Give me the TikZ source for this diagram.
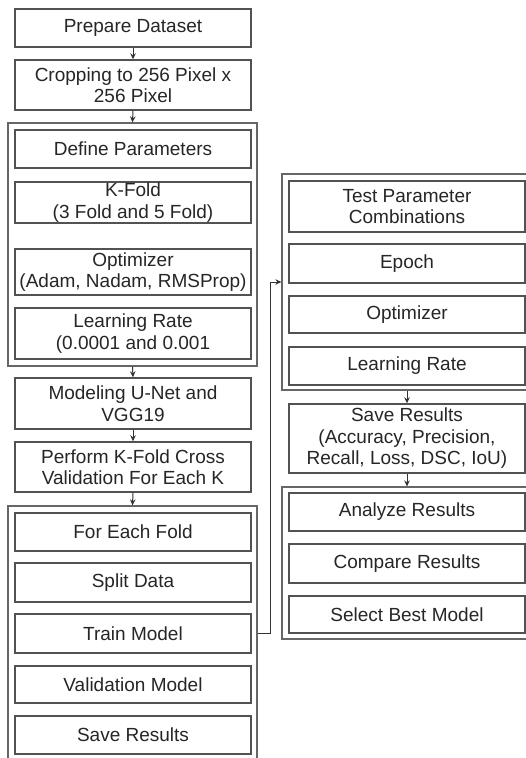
\documentclass[tikz,border=0pt]{standalone}
\usepackage{fontspec}
\setmainfont{Liberation Sans}
\usetikzlibrary{arrows.meta}
\begin{document}
\begin{tikzpicture}[x=1pt,y=-1pt,
  box/.style={draw=black!68, line width=1.4pt, minimum width=236pt, inner sep=0pt, align=center,
    text=black!85, font=\fontsize{19}{21.5}\selectfont},
  grp/.style={draw=black!60, line width=1.2pt, inner sep=0pt},
  arr/.style={draw=black!80, line width=1pt, -{Stealth[length=6pt,width=5.5pt]}}]
\clip (0,0) rectangle (526,758);
\fill[white] (0,0) rectangle (526,758);
% groups
\node[grp, minimum width=249pt, minimum height=243pt] (g1) at (132.5,244.5) {};
\node[grp, minimum width=249pt, minimum height=300pt] (g2) at (132.5,656) {};
\node[grp, minimum width=250pt, minimum height=216pt] (rg1) at (407,282) {};
\node[grp, minimum width=250pt, minimum height=152pt] (rg2) at (407,563) {};
% left column
\node[box, minimum height=38pt] (prep) at (133,28) {Prepare Dataset};
\node[box, minimum height=50pt] (crop) at (133,85) {Cropping to 256 Pixel x\\256 Pixel};
\node[box, minimum height=38pt] (def) at (133,149) {Define Parameters};
\node[box, minimum height=41pt] (kfold) at (133,202.5) {K-Fold\\(3 Fold and 5 Fold)};
\node[box, minimum height=46pt] (opt) at (133,272) {Optimizer\\(Adam, Nadam, RMSProp)};
\node[box, minimum height=51pt] (lr) at (133,333.5) {Learning Rate\\(0.0001 and 0.001};
\node[box, minimum height=51pt] (model) at (133,403.5) {Modeling U-Net and\\VGG19};
\node[box, minimum height=50pt] (perform) at (133,467) {Perform K-Fold Cross\\Validation For Each K};
\node[box, minimum height=38pt] (fold) at (133,532) {For Each Fold};
\node[box, minimum height=39pt] (split) at (133,582.5) {Split Data};
\node[box, minimum height=39pt] (train) at (133,633.5) {Train Model};
\node[box, minimum height=37pt] (valid) at (133,684.5) {Validation Model};
\node[box, minimum height=38pt] (save) at (133,735) {Save Results};
% right column
\node[box, minimum height=51pt] (test) at (407,206.5) {Test Parameter\\Combinations};
\node[box, minimum height=39pt] (epoch) at (407,263.5) {Epoch};
\node[box, minimum height=37pt] (ropt) at (407,314.5) {Optimizer};
\node[box, minimum height=38pt] (rlr) at (407,366) {Learning Rate};
\node[box, minimum height=69pt] (rsave) at (407,438.5) {Save Results\\(Accuracy, Precision,\\Recall, Loss, DSC, IoU)};
\node[box, minimum height=38pt] (analyze) at (407,512) {Analyze Results};
\node[box, minimum height=39pt] (compare) at (407,563.5) {Compare Results};
\node[box, minimum height=37pt] (select) at (407,614.5) {Select Best Model};
% connectors
\draw[arr] (prep.south) -- (crop.north);
\draw[arr] (crop.south) -- (g1.north);
\draw[arr] (g1.south) -- (model.north);
\draw[arr] (model.south) -- (perform.north);
\draw[arr] (perform.south) -- (g2.north);
\draw[arr] (rg1.south) -- (rsave.north);
\draw[arr] (rsave.south) -- (rg2.north);
\draw[arr] (train.east -| g2.east) -- ++(13,0) |- (rg1.west);
\end{tikzpicture}
\end{document}
